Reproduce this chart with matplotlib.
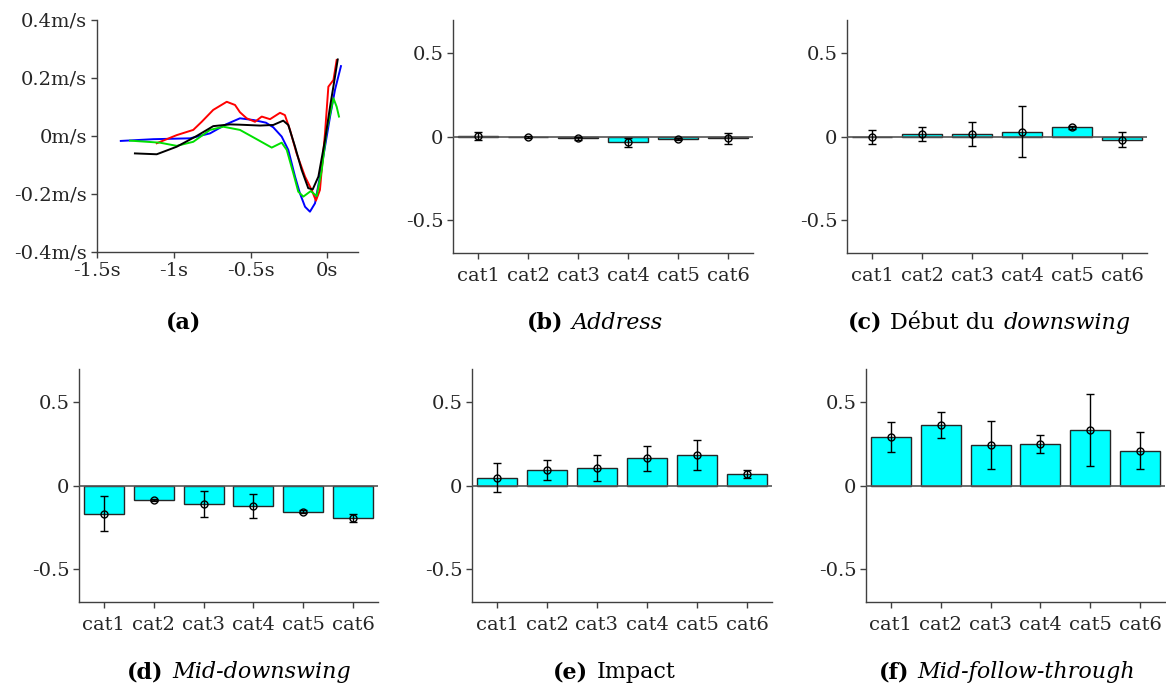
import matplotlib
matplotlib.use("Agg")
import matplotlib.pyplot as plt
from matplotlib.offsetbox import TextArea, HPacker, AnnotationBbox

plt.rcParams['font.family'] = ['DejaVu Serif']

# ---------------- data ----------------
# panel (a): velocity curves (time in s, velocity in m/s)
blue_t = [-1.345, -1.133, -0.894, -0.764, -0.66, -0.569, -0.48, -0.40, -0.352, -0.297, -0.254,
          -0.21, -0.178, -0.145, -0.113, -0.08, -0.048, -0.015, 0.018, 0.05, 0.089]
blue_v = [-0.017, -0.011, -0.008, 0.009, 0.040, 0.061, 0.055, 0.046, 0.030, -0.002, -0.048,
          -0.14, -0.198, -0.244, -0.261, -0.232, -0.14, -0.037, 0.067, 0.159, 0.241]
red_t = [-1.111, -0.981, -0.873, -0.818, -0.743, -0.655, -0.601, -0.569, -0.525, -0.471, -0.427,
         -0.373, -0.308, -0.276, -0.243, -0.2, -0.145, -0.102, -0.074, -0.048, -0.015, 0.007,
         0.04, 0.061]
red_v = [-0.025, 0.003, 0.021, 0.049, 0.09, 0.118, 0.107, 0.082, 0.061, 0.049, 0.067,
         0.058, 0.080, 0.072, 0.021, -0.06, -0.14, -0.186, -0.223, -0.186, 0.009, 0.17,
         0.193, 0.262]
green_t = [-1.285, -1.09, -0.981, -0.873, -0.764, -0.677, -0.569, -0.46, -0.362, -0.297, -0.264,
           -0.221, -0.189, -0.156, -0.108, -0.069, -0.036, -0.004, 0.04, 0.061, 0.076]
green_v = [-0.016, -0.023, -0.034, -0.02, 0.021, 0.032, 0.021, -0.011, -0.040, -0.023, -0.048,
           -0.129, -0.192, -0.209, -0.19, -0.207, -0.117, 0.021, 0.13, 0.101, 0.067]
black_t = [-1.253, -1.111, -0.981, -0.851, -0.743, -0.634, -0.569, -0.438, -0.352, -0.287,
           -0.254, -0.21, -0.167, -0.124, -0.095, -0.058, -0.015, 0.018, 0.05, 0.068]
black_v = [-0.06, -0.063, -0.037, 0.0, 0.034, 0.040, 0.039, 0.036, 0.038, 0.053,
           0.038, -0.037, -0.117, -0.18, -0.184, -0.14, -0.014, 0.101, 0.204, 0.264]

categories = ['cat1', 'cat2', 'cat3', 'cat4', 'cat5', 'cat6']

address_mean = [0.003, -0.003, -0.012, -0.035, -0.016, -0.012]
address_err = [0.022, 0.008, 0.012, 0.027, 0.008, 0.035]

debut_mean = [-0.003, 0.015, 0.016, 0.029, 0.055, -0.019]
debut_err = [0.044, 0.042, 0.072, 0.155, 0.010, 0.044]

middown_mean = [-0.169, -0.088, -0.112, -0.125, -0.157, -0.193]
middown_err = [0.105, 0.008, 0.079, 0.073, 0.008, 0.024]

impact_mean = [0.048, 0.094, 0.106, 0.163, 0.181, 0.070]
impact_err = [0.086, 0.060, 0.077, 0.073, 0.090, 0.024]

midfollow_mean = [0.293, 0.365, 0.245, 0.251, 0.335, 0.209]
midfollow_err = [0.089, 0.078, 0.143, 0.055, 0.216, 0.111]

# ---------------- layout ----------------
W, H = 1166, 691
fig = plt.figure(figsize=(W / 100, H / 100), dpi=100)

def axes_px(left, right, top, bottom):
    return fig.add_axes([left / W, 1 - bottom / H, (right - left) / W, (bottom - top) / H])

AXC = '#404040'
TXC = '#262626'
FS = 14
CFS = 16

def style(ax):
    for s in ['top', 'right']:
        ax.spines[s].set_visible(False)
    for s in ['left', 'bottom']:
        ax.spines[s].set_color(AXC)
        ax.spines[s].set_linewidth(1.0)
    ax.tick_params(direction='out', length=4, width=1.0, color=AXC, labelcolor=TXC,
                   labelsize=FS)
    ax.tick_params(axis='x', pad=6)
    ax.tick_params(axis='y', pad=3)

# panel (a)
axa = axes_px(97, 358, 20, 252)
for t, v, c in [(blue_t, blue_v, '#0000ff'), (red_t, red_v, '#ff0000'),
                (green_t, green_v, '#00e000'), (black_t, black_v, 'black')]:
    axa.plot(t, v, color=c, lw=1.4, solid_joinstyle='round')
axa.set_xlim(-1.5, 0.2)
axa.set_ylim(-0.4, 0.4)
axa.set_xticks([-1.5, -1, -0.5, 0])
axa.set_xticklabels(['-1.5s', '-1s', '-0.5s', '0s'])
axa.set_yticks([-0.4, -0.2, 0, 0.2, 0.4])
axa.set_yticklabels(['-0.4m/s', '-0.2m/s', '0m/s', '0.2m/s', '0.4m/s'])
style(axa)
axa.tick_params(axis='x', pad=3)

def bar_panel(rect, means, errs):
    ax = axes_px(*rect)
    x = list(range(1, len(categories) + 1))
    ax.bar(x, means, width=0.8, color='#00ffff', edgecolor='#262626', linewidth=1.0, zorder=2)
    ax.axhline(0, color='#555555', lw=1.2, zorder=3)
    ax.errorbar(x, means, yerr=errs, fmt='o', mfc='none', mec='black', ms=5, mew=1.0,
                ecolor='black', elinewidth=1.0, capsize=3, capthick=1.0, zorder=4)
    ax.set_xlim(0.5, 6.5)
    ax.set_ylim(-0.7, 0.7)
    ax.set_xticks(x)
    ax.set_xticklabels(categories)
    ax.set_yticks([-0.5, 0, 0.5])
    ax.set_yticklabels(['-0.5', '0', '0.5'])
    style(ax)
    return ax

bar_panel((453, 753, 20, 253), address_mean, address_err)
bar_panel((847, 1147, 20, 253), debut_mean, debut_err)
bar_panel((79, 378, 369, 602), middown_mean, middown_err)
bar_panel((472, 772, 369, 602), impact_mean, impact_err)
bar_panel((866, 1165, 369, 602), midfollow_mean, midfollow_err)

def caption(cx, cy, parts):
    children = []
    for txt, kind in parts:
        props = dict(fontsize=CFS, color='black')
        if kind == 'b':
            props['fontweight'] = 'bold'
        elif kind == 'i':
            props['fontstyle'] = 'italic'
        children.append(TextArea(txt, textprops=props))
    box = HPacker(children=children, align='baseline', pad=0, sep=6)
    ab = AnnotationBbox(box, (cx / W, 1 - cy / H), xycoords='figure fraction',
                        frameon=False, box_alignment=(0.5, 0.5), pad=0)
    fig.add_artist(ab)

caption(184, 323, [('(a)', 'b')])
caption(595, 323, [('(b)', 'b'), ('Address', 'i')])
caption(989, 323, [('(c)', 'b'), ('Début du', 'n'), ('downswing', 'i')])
caption(239, 672, [('(d)', 'b'), ('Mid-downswing', 'i')])
caption(614, 672, [('(e)', 'b'), ('Impact', 'n')])
caption(1007, 672, [('(f)', 'b'), ('Mid-follow-through', 'i')])

fig.savefig('out.png', dpi=100)
